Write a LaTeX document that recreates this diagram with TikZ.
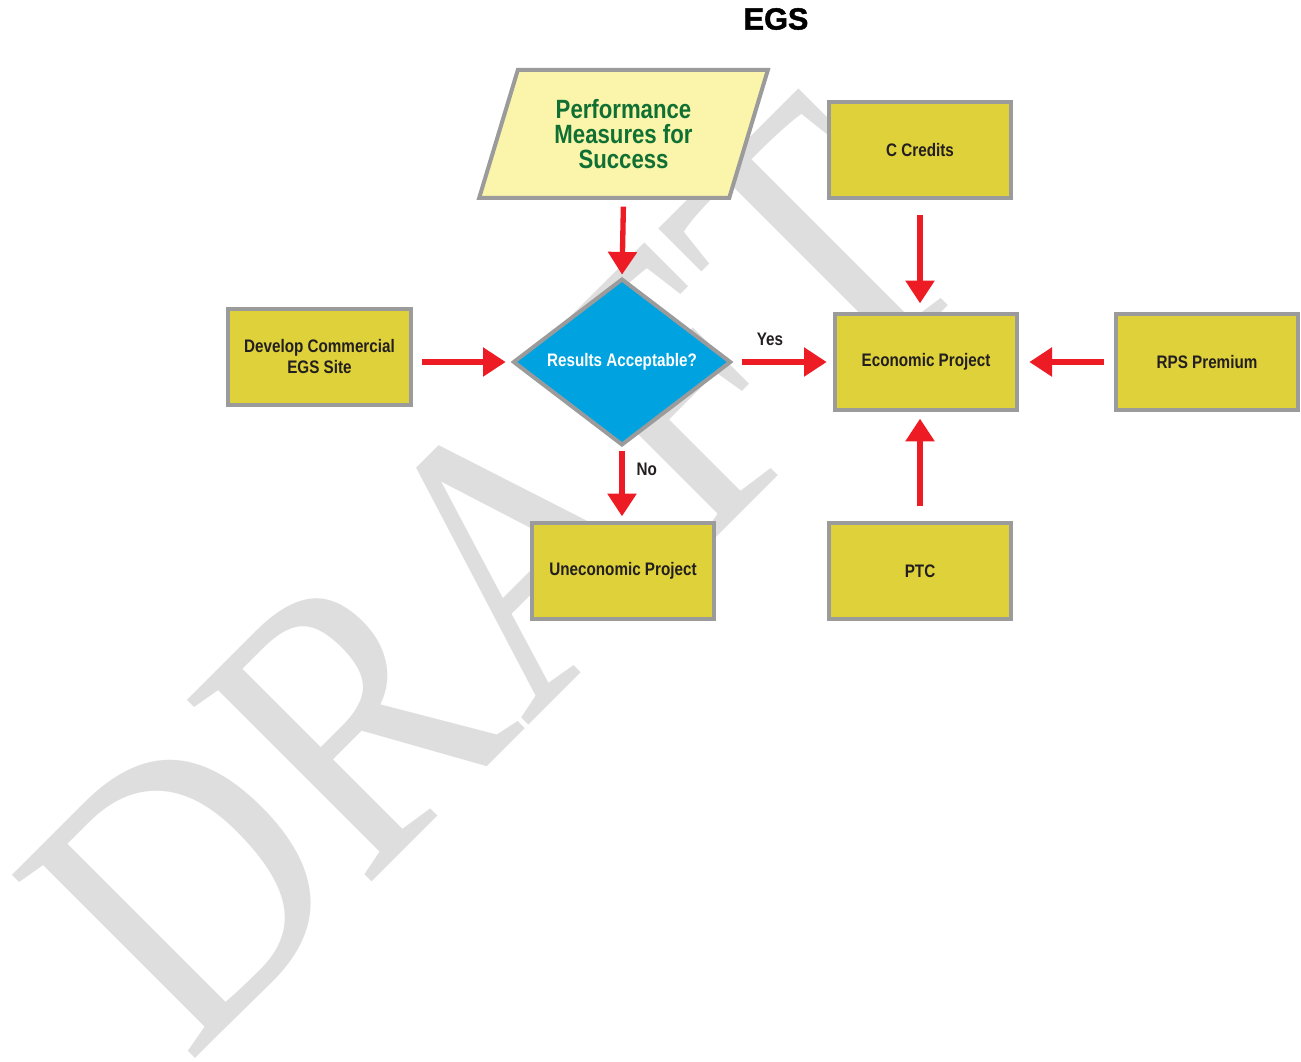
\documentclass[tikz,border=0pt]{standalone}
\usepackage{fontspec}
\setmainfont{Liberation Sans}
\newfontfamily\boxfont{Liberation Sans Bold}[FakeStretch=0.84]
\newfontfamily\titlefont{Liberation Sans Bold}[FakeBold=1.5]
\newfontfamily\draftfont{Liberation Serif}
\usetikzlibrary{shapes.geometric,arrows.meta}

\definecolor{boxyellow}{RGB}{222,209,58}
\definecolor{paleyellow}{RGB}{250,245,170}
\definecolor{boxgray}{RGB}{155,155,155}
\definecolor{flowred}{RGB}{237,28,36}
\definecolor{decblue}{RGB}{0,163,224}
\definecolor{perfgreen}{RGB}{16,112,52}
\definecolor{boxtext}{RGB}{35,31,32}

\tikzset{every picture/.style={line width=0.75pt}}
\tikzset{
  egsbox/.style={draw=boxgray, line width=3pt, fill=boxyellow,
    minimum width=137pt, minimum height=72pt, inner sep=0pt, align=center,
    text=boxtext, font=\boxfont\fontsize{13.6}{15.75}\selectfont},
  decision/.style={diamond, draw=boxgray, line width=3pt, fill=decblue,
    minimum width=163.5pt, minimum height=106.5pt, inner sep=0pt,
    text=white, font=\boxfont\fontsize{13.6}{15.75}\selectfont},
  measure/.style={trapezium, trapezium left angle=70, trapezium right angle=110,
    trapezium stretches=true, draw=boxgray, line width=3pt, fill=paleyellow,
    minimum width=216.75pt, minimum height=96pt, inner sep=0pt, align=center,
    text=perfgreen, font=\boxfont\fontsize{19.8}{18.75}\selectfont},
  flow/.style={draw=flowred, line width=4pt, -{Triangle[length=17pt,width=21pt]}},
  flowlabel/.style={text=boxtext, inner sep=1pt, font=\boxfont\fontsize{13.6}{15}\selectfont},
  draftmark/.style={anchor=base west, rotate=45, yscale=1.15, inner sep=0pt,
    text=black!13, font=\draftfont\fontsize{258}{258}\selectfont}
}

\begin{document}
\begin{tikzpicture}[x=0.75pt, y=0.75pt, yscale=-1,xscale=1]

    \useasboundingbox (0,0) rectangle (1301,1062);

    % watermark behind everything
    \node [draftmark] (draft) at (188,1066) {DRAFT};

    \node [font=\titlefont\fontsize{23}{23}\selectfont] (title) at (776,19) {EGS};

    \node [measure] (perf) at (623.5,134) {Performance\\Measures for\\Success};
    \node [egsbox] (site) at (319.5,357) {Develop Commercial\\EGS Site};
    \node [decision] (accept) at (622,362) {Results Acceptable?};
    \node [egsbox] (uneconomic) at (623,571) {Uneconomic Project};

    \node [egsbox] (credits) at (920,150.5) {C Credits};
    \node [egsbox] (economic) at (926,362) {Economic Project};
    \node [egsbox] (rps) at (1207,362) {RPS Premium};
    \node [egsbox] (ptc) at (920,571) {PTC};

    % flows into the decision
    \draw [flow, shorten <=5pt, shorten >=1.5pt] (perf.south) -- (accept.north);
    \draw [flow, shorten <=7pt, shorten >=4pt] (site.east |- accept) -- (accept.west);

    % outcomes
    \draw [flow, shorten <=6.5pt, shorten >=4.5pt] (accept.east) --
          node [flowlabel, pos=0.37, above=9pt] (yes) {Yes} (accept -| economic.west);
    \draw [flow, shorten <=3pt, shorten >=3.5pt] (accept.south) --
          node [flowlabel, pos=0.3, right=8pt] (no) {No} (accept.south |- uneconomic.north);

    % inputs to economic project
    \draw [flow, shorten <=11pt, shorten >=6.5pt] (credits.south) -- (credits.south |- economic.north);
    \draw [flow, shorten <=7pt, shorten >=7.5pt] (rps.west) -- (economic.east);
    \draw [flow, shorten <=11pt, shorten >=5pt] (ptc.north) -- (ptc.north |- economic.south);

\end{tikzpicture}
\end{document}
